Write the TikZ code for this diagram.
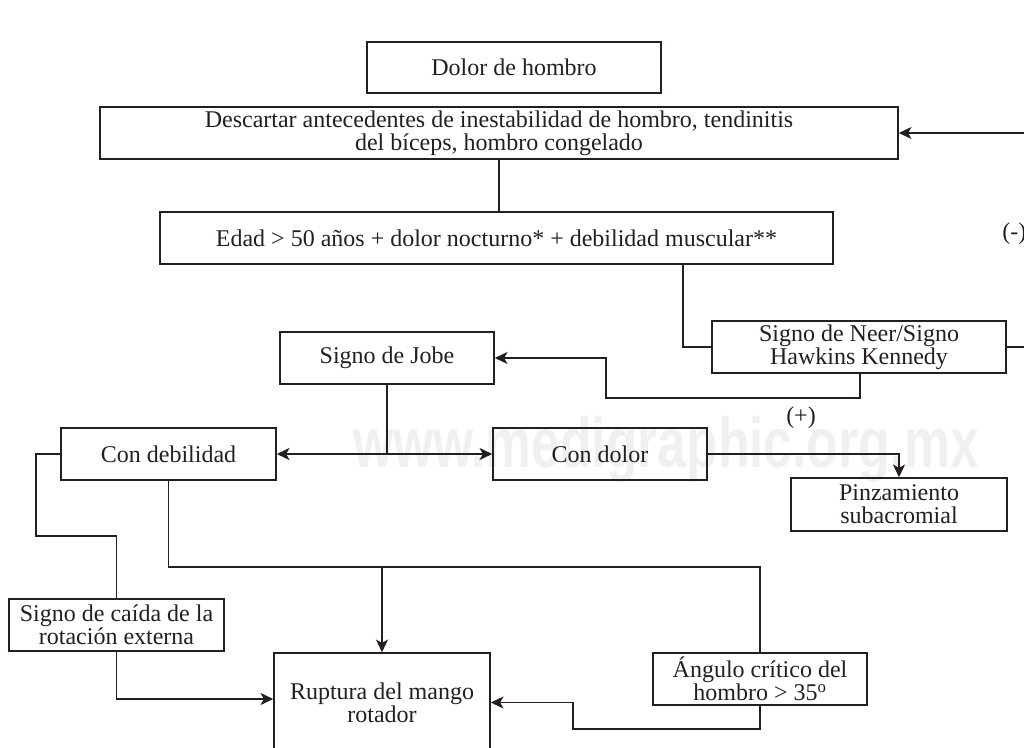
\documentclass[tikz,border=0pt]{standalone}
\usepackage{fontspec}
\setmainfont{Liberation Serif}
\newfontfamily\wmfont{Liberation Sans}
\usepackage{xcolor}
\definecolor{ink}{HTML}{231F20}
\usetikzlibrary{arrows.meta,positioning}

\begin{document}
\begin{tikzpicture}[x=0.75pt, y=-0.75pt,
    box/.style={draw=ink, line width=1.2pt, inner sep=0pt, align=center, text=ink,
        font=\fontsize{18}{17.25}\selectfont},
    sz/.style 2 args={minimum width=#1*0.75pt, minimum height=#2*0.75pt},
    link/.style={draw=ink, line width=1.2pt},
    arr/.style={link, -{Stealth[length=9.5pt, width=9pt, inset=2.5pt]}},
    sign/.style={text=ink, inner sep=0pt, font=\fontsize{18}{17.25}\selectfont}]
    \clip (0,0) rectangle (1024,748);

    % Watermark
    \node[anchor=base, text=black!6, inner sep=0pt] (wm) at (666,467)
        {\scalebox{0.73}[1]{\wmfont\bfseries\fontsize{53}{53}\selectfont www.medigraphic.org.mx}};

    % Top
    \node[box, sz={294}{51}] (dolor) at (514,67.5) {Dolor de hombro};
    \node[box, sz={798}{52}] (descartar) at (499,133)
        {Descartar antecedentes de inestabilidad de hombro, tendinitis\\del bíceps, hombro congelado};
    \node[box, sz={673}{52}] (edad) at (496.5,238)
        {Edad > 50 años + dolor nocturno* + debilidad muscular**};
    \node[box, sz={294}{52}] (neer) at (859,347) {Signo de Neer/Signo\\Hawkins Kennedy};
    \node[box, sz={214}{52}] (jobe) at (387,358) {Signo de Jobe};

    % Middle
    \node[box, sz={215}{52}] (debil) at (168.5,454) {Con debilidad};
    \node[box, sz={214}{52}] (dolorc) at (600,454) {Con dolor};
    \node[box, sz={216}{53}] (pinz) at (899,504.5) {Pinzamiento\\subacromial};

    % Bottom
    \node[box, sz={215}{52}] (caida) at (116.5,625) {Signo de caída de la\\rotación externa};
    \node[box, sz={216}{99}] (ruptura) at (382,702.5) {Ruptura del mango\\rotador};
    \node[box, sz={214}{52}] (angulo) at (760,679) {Ángulo crítico del\\hombro > 35\textsuperscript{o}};

    % Signs
    \node[sign, anchor=west] (menos) at (1002,234) {(-)};
    \node[sign] (mas) at (801,418) {(+)};

    % Connectors
    \draw[link] (descartar.south) -- (descartar.south |- edad.north);
    \draw[link] (edad.south -| 683,0) |- (neer.west);
    \draw[arr] (neer.east) -- ++(30,0) |- (descartar.east);
    \draw[arr] (neer.south -| 860,0) |- (606,398) |- (jobe.east);
    \coordinate (fork) at (jobe.south |- debil.east);
    \draw[link] (jobe.south) -- (fork);
    \draw[arr] (fork) -- (debil.east);
    \draw[arr] (fork) -- (dolorc.west);
    \draw[arr] (dolorc.east) -| (pinz.north);
    \draw[link] (debil.west) -| (36,536) -| (caida.north);
    \coordinate (tee) at (ruptura.north |- 0,567);
    \draw[link] (debil.south) |- (tee) -| (angulo.north);
    \draw[arr] (tee) -- (ruptura.north);
    \draw[arr] (caida.south) |- (ruptura.west |- 0,699);
    \draw[arr] (angulo.south) |- (573,729) |- (ruptura.east);
\end{tikzpicture}
\end{document}
